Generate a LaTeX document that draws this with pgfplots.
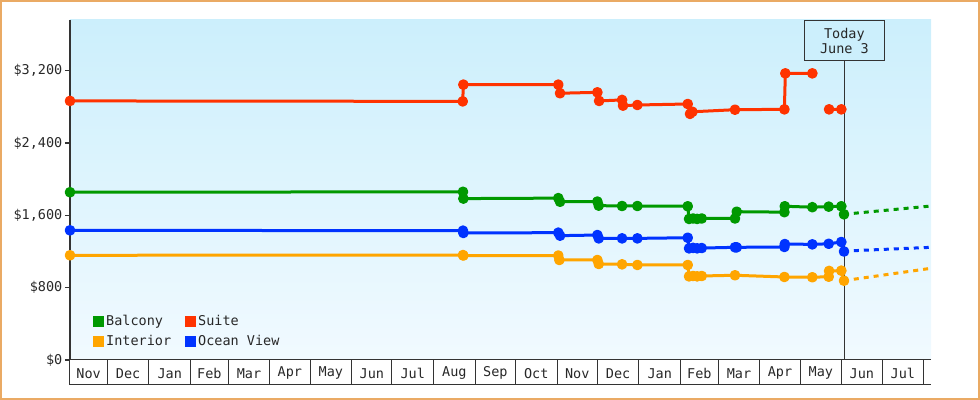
\documentclass[border=0pt]{standalone}
\usepackage{pgfplots}
\pgfplotsset{compat=1.18}
\usepackage{fontspec}
\setmainfont{DejaVu Sans Mono}
\definecolor{cgreen}{RGB}{0,153,0}
\definecolor{cred}{RGB}{255,51,0}
\definecolor{corange}{RGB}{255,165,0}
\definecolor{cblue}{RGB}{0,51,255}
\definecolor{axisgray}{RGB}{51,51,51}
\definecolor{textgray}{RGB}{40,40,40}
\definecolor{bgtop}{RGB}{204,239,252}
\definecolor{bgbot}{RGB}{241,250,255}
\definecolor{bordercol}{RGB}{234,170,100}
\newcommand{\cfont}{\fontsize{13.5}{17}\selectfont}
\begin{document}
\cfont
\begin{tikzpicture}
\begin{axis}[
  scale only axis, width=861pt, height=340pt,
  xmin=2.2, xmax=643.5, ymin=0, ymax=3760,
  clip=false,
  unbounded coords=jump,
  axis x line*=bottom, axis y line*=left,
  x axis line style={line width=1pt, color=axisgray},
  y axis line style={line width=2pt, color=axisgray},
  tick align=outside, major tick length=5pt,
  ytick={0,800,1600,2400,3200},
  yticklabels={{\$0},{\$800},{\$1,600},{\$2,400},{\$3,200}},
  ytick style={line width=1.5pt, color=axisgray},
  xtick={16.1,45.5,76.5,106,135.5,166,196.5,227,257.5,288.5,319,349.5,380,410.5,441.5,471,500.5,531,561.5,592,622.5},
  xticklabels={Nov,Dec,Jan,Feb,Mar,Apr,May,Jun,Jul,Aug,Sep,Oct,Nov,Dec,Jan,Feb,Mar,Apr,May,Jun,Jul},
  xtick style={draw=none},
  xticklabel style={anchor=center, yshift=-8.3pt},
  yticklabel style={inner sep=2.5pt},
  tick label style={font=\cfont, text=textgray},
  axis background/.style={top color=bgtop, bottom color=bgbot},
  legend columns=2,
  legend cell align=left,
  legend style={draw=none, fill=none, at={(rel axis cs:0,0)}, anchor=south west,
    xshift=20pt, yshift=8pt, font=\cfont, text=textgray, row sep=4pt,
    /tikz/every even column/.append style={column sep=12pt}},
  legend image code/.code={\fill[#1, draw=none] (0pt,-5.5pt) rectangle (11pt,5.5pt);},
  every axis plot/.append style={line width=3pt, line join=round, mark=*, mark size=3.8pt, mark options={solid}},
]
% background annotations
\pgfplotsinvokeforeach{2.2,30,61,92,120,151,181,212,242,273,304,334,365,395,426,457,485,516,546,577,607,638}{
  \draw[axisgray, line width=1pt] (axis cs:#1,0) -- ([yshift=-25pt]axis cs:#1,0);
}
\draw[axisgray, line width=1pt] ([yshift=-25pt]axis cs:2.2,0) -- ([yshift=-25pt]axis cs:643.5,0);
\draw[axisgray, line width=1pt] (axis cs:579,0) -- (axis cs:579,3760);
\node[draw=axisgray, fill=bgtop, line width=1pt, anchor=north, minimum width=80pt,
  minimum height=40pt, inner sep=0pt, align=center, text=textgray,
  font=\fontsize{13.5}{17}\selectfont] at (axis cs:579,3760) {\raisebox{-2pt}{Today}\\June 3};
% Balcony
\addplot[color=cgreen] coordinates {
(2.2,1855) (294.9,1860) (295.2,1785) (365.9,1790) (367.2,1750) (395.0,1752) (396.0,1707)
(413.4,1703) (424.8,1703) (462.3,1700) (463.3,1560) (466.3,1565) (469.3,1560) (472.7,1565)
(497.5,1565) (498.8,1640) (534.3,1635) (534.6,1700) (555.1,1690) (567.3,1696) (576.7,1700)
(578.7,1611)};
\addlegendentry{Balcony}
% Suite
\addplot[color=cred] coordinates {
(2.2,2865) (294.7,2860) (295.2,3045) (365.9,3045) (367.2,2950) (395.0,2960) (396.3,2865)
(413.4,2876) (414.1,2813) (424.8,2820) (462.3,2831) (464.0,2722) (465.8,2745) (497.5,2768)
(534.3,2772) (535.0,3170) (555.1,3170) (560,nan) (567.6,2772) (576.7,2772)};
\addlegendentry{Suite}
% Interior
\addplot[color=corange] coordinates {
(2.2,1158) (294.9,1160) (295.2,1155) (365.9,1155) (366.7,1106) (395.0,1106) (396.0,1062)
(413.4,1058) (424.8,1051) (462.3,1051) (463.3,925) (466.3,929) (469.3,925) (472.7,929)
(497.5,937) (534.3,918) (555.1,915) (567.3,921) (567.6,985) (576.7,988) (578.7,877)};
\addlegendentry{Interior}
% Ocean View
\addplot[color=cblue] coordinates {
(2.2,1434) (294.9,1430) (295.2,1405) (365.9,1408) (367.2,1375) (395.0,1382) (396.0,1345)
(413.4,1345) (424.8,1345) (462.3,1352) (463.3,1235) (466.3,1240) (469.3,1235) (472.7,1238)
(497.5,1246) (498.8,1246) (534.3,1250) (534.6,1282) (555.1,1279) (567.3,1285) (576.7,1305)
(578.7,1200)};
\addlegendentry{Ocean View}
% forecasts
\addplot[color=cgreen, mark=none, dash pattern=on 5pt off 5pt, forget plot] coordinates {(586,1622) (643.5,1703)};
\addplot[color=cblue, mark=none, dash pattern=on 5pt off 5pt, forget plot] coordinates {(586,1209) (643.5,1246)};
\addplot[color=corange, mark=none, dash pattern=on 5pt off 5pt, forget plot] coordinates {(586,893) (643.5,1014)};
% outer border
\draw[bordercol, line width=2pt] ([shift={(-69pt,-39pt)}]rel axis cs:0,0) rectangle ([shift={(48pt,19pt)}]rel axis cs:1,1);
\end{axis}
\end{tikzpicture}
\end{document}
